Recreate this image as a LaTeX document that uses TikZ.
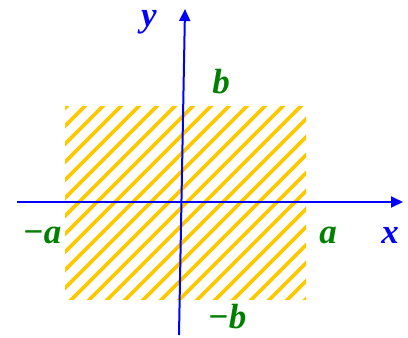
\documentclass[tikz,border=0pt]{standalone}
\usepackage{fontspec}
\setmainfont{Liberation Serif}
\usetikzlibrary{arrows.meta}
\definecolor{axisblue}{RGB}{0,0,255}
\definecolor{labgreen}{RGB}{0,128,0}
\definecolor{hatchgold}{RGB}{255,200,0}
\tikzset{
  axisline/.style={draw=axisblue,line width=2pt,-{Triangle[length=12pt,width=11pt]}},
  hatchline/.style={draw=hatchgold,line width=3.6pt},
  lab/.style={inner sep=0pt,anchor=base,font=\fontsize{35}{40}\selectfont\bfseries\itshape},
  glab/.style={lab,text=labgreen},
  blab/.style={lab,text=axisblue}
}
\begin{document}
\begin{tikzpicture}[x=1pt,y=-1pt]
\useasboundingbox (0,0) rectangle (408,338);
% hatched region
\begin{scope}
  \clip (65,106) rectangle (306,299);
  \foreach \c in {155,173,...,630} {
    \draw[hatchline] (\c-95,95) -- (\c-320,320);
  }
\end{scope}
% axes
\coordinate (xs) at (17,202);
\coordinate (xe) at (403,202);
\coordinate (ys) at (179,335);
\coordinate (ye) at (185,9);
\draw[axisline] (xs) -- (xe);
\draw[axisline] (ys) -- (ye);
% labels
\node[blab] (ylab) at (149,26) {y};
\node[blab] (xlab) at (390,243) {x};
\node[glab] (bp) at (221,93) {b};
\node[glab] (bm) at (227,328) {−b};
\node[glab] (am) at (42,243) {−a};
\node[glab] (ap) at (328,243) {a};
\end{tikzpicture}
\end{document}
